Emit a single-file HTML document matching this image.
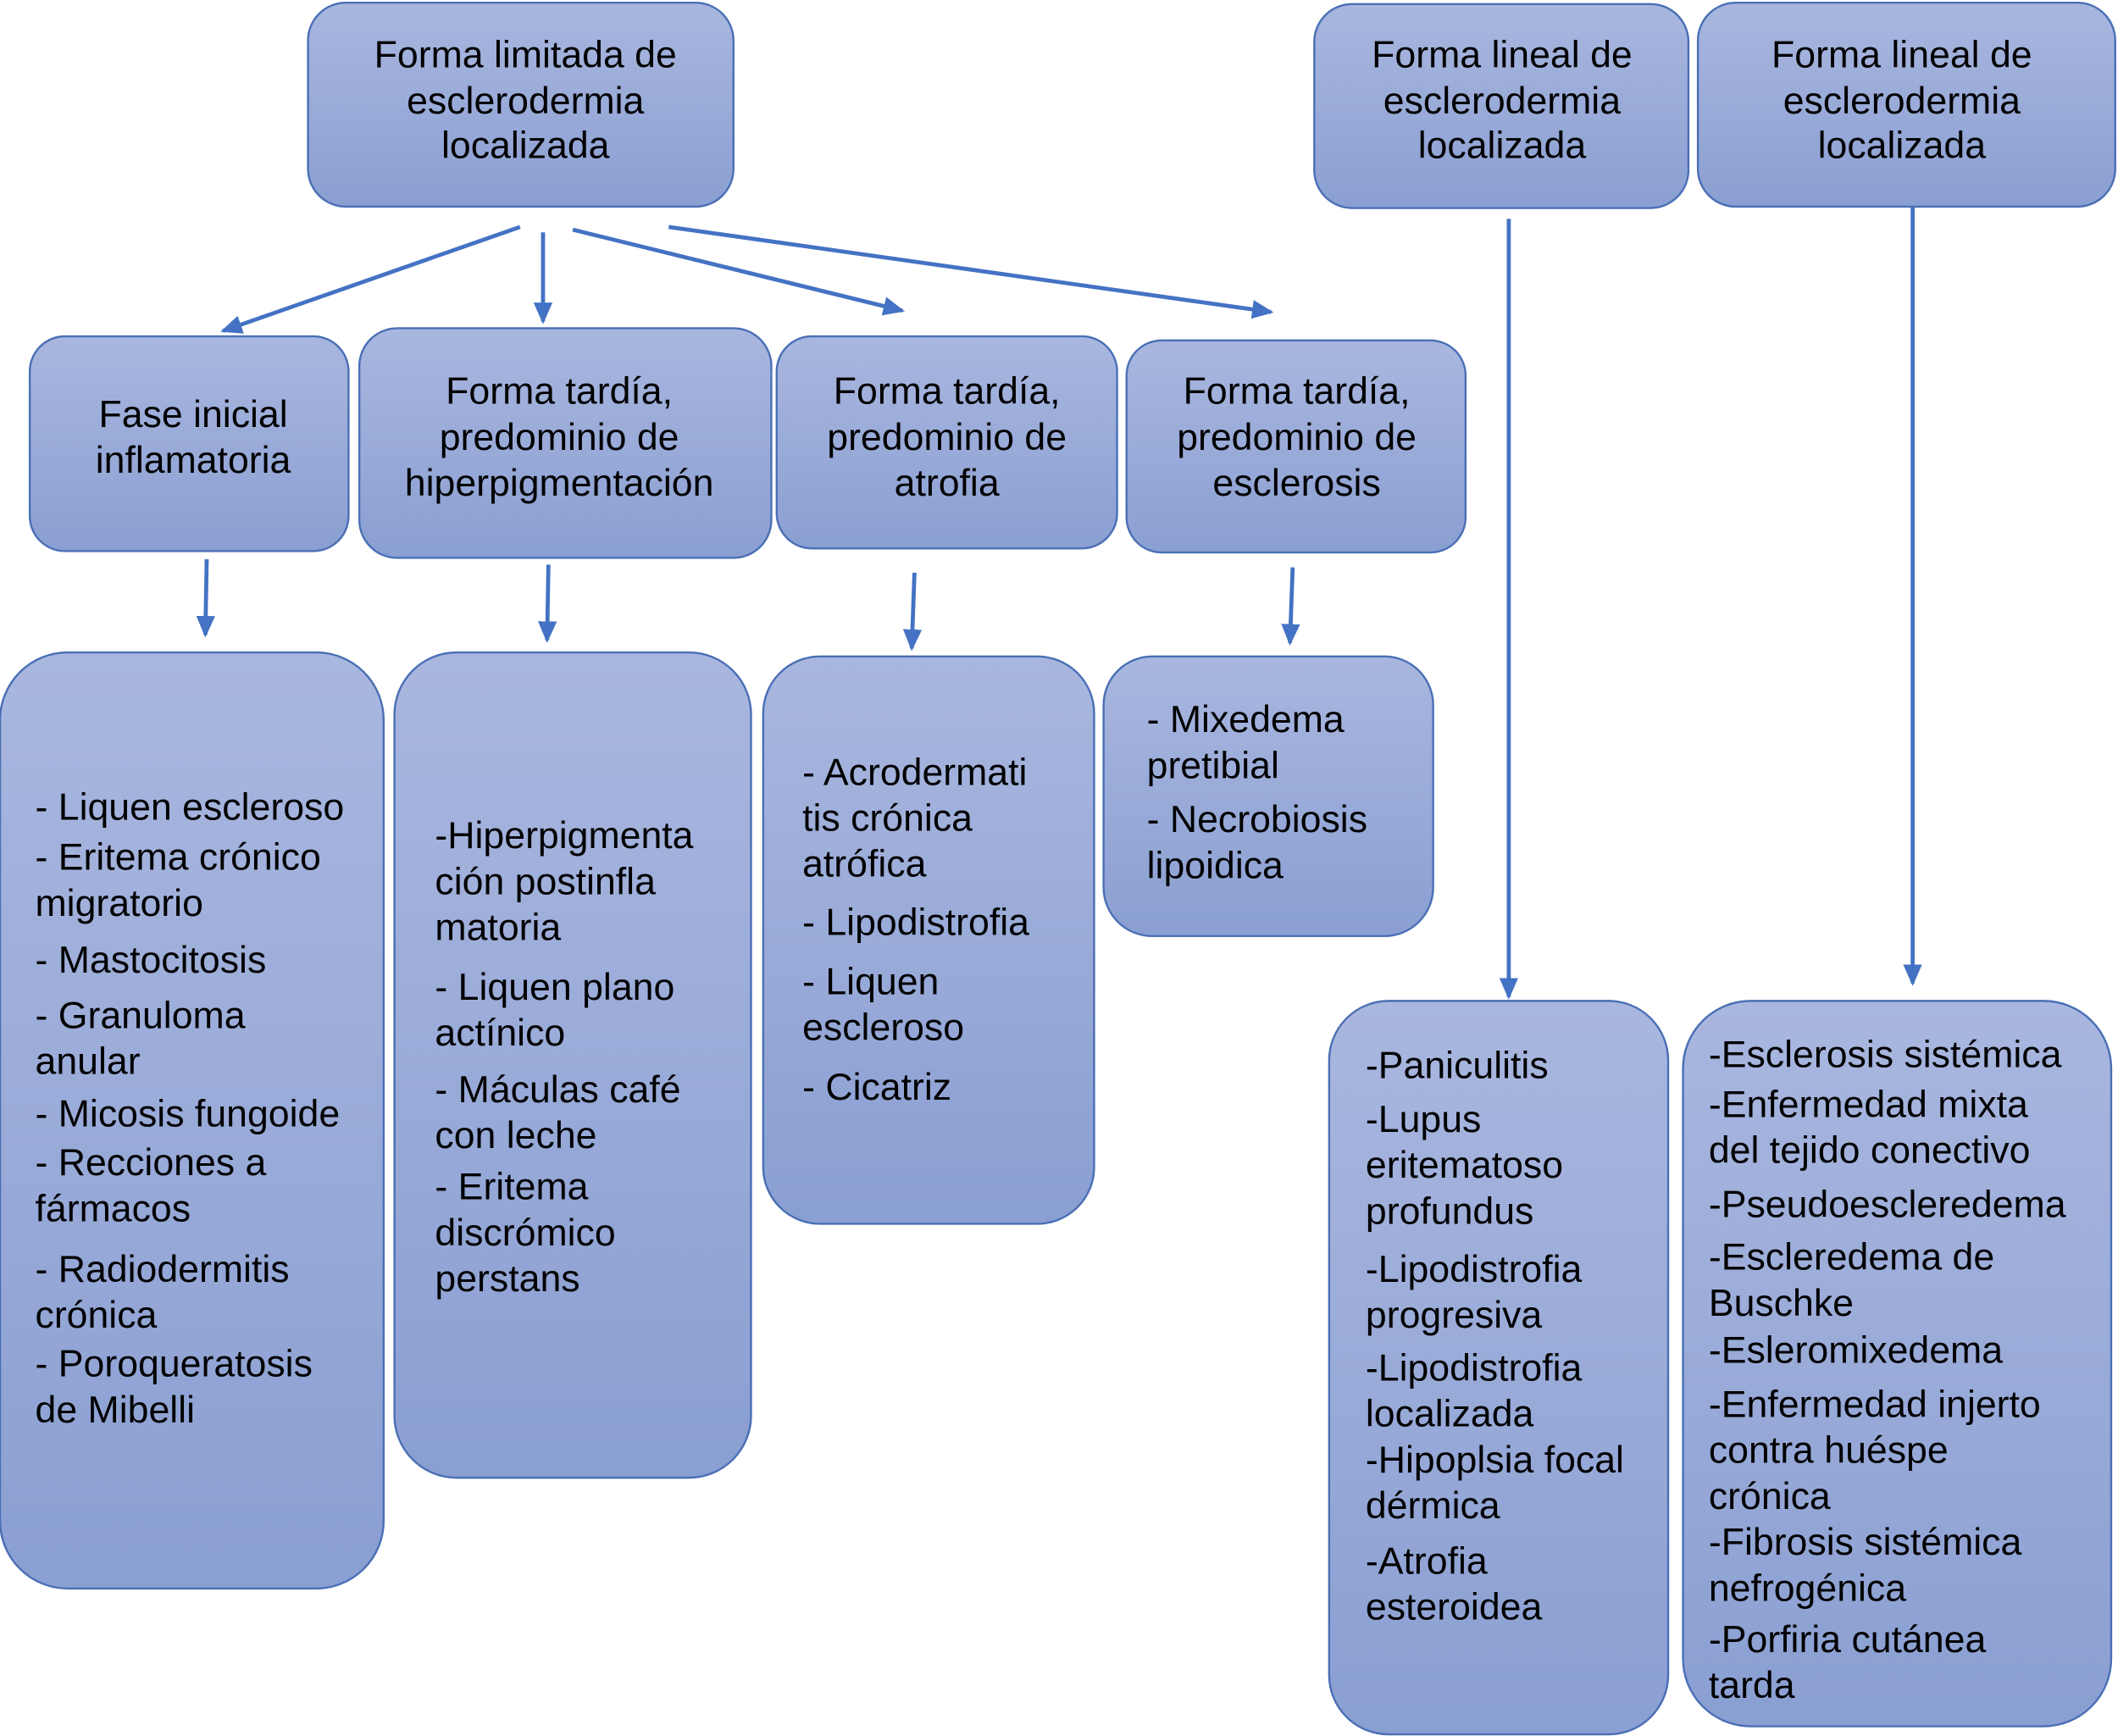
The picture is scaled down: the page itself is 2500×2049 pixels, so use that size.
<!DOCTYPE html>
<html><head><meta charset="utf-8"><style>html,body{margin:0;padding:0;background:#fff}svg{display:block}</style></head><body>
<svg width="2500" height="2049" viewBox="0 0 1568 1285.2" xmlns="http://www.w3.org/2000/svg">
<defs>
<linearGradient id="g" x1="0" y1="0" x2="0" y2="1"><stop offset="0" stop-color="#a9b7df"/><stop offset="1" stop-color="#8a9fd2"/></linearGradient>
<marker id="a" markerWidth="16" markerHeight="16" refX="14" refY="8" orient="auto" markerUnits="userSpaceOnUse" viewBox="0 0 16 16"><path d="M0,1 L16,8 L0,15 z" fill="#4472c4"/></marker>
</defs>
<g fill="url(#g)" stroke="#4a6fb5" stroke-width="1.5">
<rect x="228" y="2" width="315" height="151" rx="28"/>
<rect x="973" y="3" width="277" height="151" rx="28"/>
<rect x="1257" y="2" width="309" height="151" rx="28"/>
<rect x="22" y="249" width="236" height="159" rx="26"/>
<rect x="266" y="243" width="305" height="170" rx="28"/>
<rect x="575" y="249" width="252" height="157" rx="26"/>
<rect x="834" y="252" width="251" height="157" rx="26"/>
<rect x="0" y="483" width="284" height="693" rx="50"/>
<rect x="292" y="483" width="264" height="611" rx="46"/>
<rect x="565" y="486" width="245" height="420" rx="42"/>
<rect x="817" y="486" width="244" height="207" rx="36"/>
<rect x="984" y="741" width="251" height="543" rx="44"/>
<rect x="1246" y="741" width="317" height="537" rx="50"/>
</g>
<g stroke="#4472c4" stroke-width="3" marker-end="url(#a)">
<line x1="385" y1="168" x2="165" y2="245"/>
<line x1="402" y1="172" x2="402" y2="238"/>
<line x1="424" y1="170" x2="668" y2="230"/>
<line x1="495" y1="168" x2="941" y2="231"/>
<line x1="153" y1="414" x2="152" y2="470"/>
<line x1="406" y1="418" x2="405" y2="474"/>
<line x1="677" y1="424" x2="675" y2="480"/>
<line x1="957" y1="420" x2="955" y2="476"/>
<line x1="1117" y1="162" x2="1117" y2="738"/>
<line x1="1416" y1="153" x2="1416" y2="728"/>
</g>
<g font-family="Liberation Sans, Arial, sans-serif" font-size="28" fill="#000">
<g text-anchor="middle">
<text x="389" y="50">Forma limitada de</text><text x="389" y="84">esclerodermia</text><text x="389" y="117">localizada</text>
<text x="1112" y="50">Forma lineal de</text><text x="1112" y="84">esclerodermia</text><text x="1112" y="117">localizada</text>
<text x="1408" y="50">Forma lineal de</text><text x="1408" y="84">esclerodermia</text><text x="1408" y="117">localizada</text>
<text x="143" y="316">Fase inicial</text><text x="143" y="350">inflamatoria</text>
<text x="414" y="299">Forma tardía,</text><text x="414" y="333">predominio de</text><text x="414" y="367">hiperpigmentación</text>
<text x="701" y="299">Forma tardía,</text><text x="701" y="333">predominio de</text><text x="701" y="367">atrofia</text>
<text x="960" y="299">Forma tardía,</text><text x="960" y="333">predominio de</text><text x="960" y="367">esclerosis</text>
</g>
<g>
<text x="26" y="607">- Liquen escleroso</text><text x="26" y="644">- Eritema crónico</text><text x="26" y="678">migratorio</text><text x="26" y="720">- Mastocitosis</text><text x="26" y="761">- Granuloma</text><text x="26" y="795">anular</text><text x="26" y="834">- Micosis fungoide</text><text x="26" y="870">- Recciones a</text><text x="26" y="904">fármacos</text><text x="26" y="949">- Radiodermitis</text><text x="26" y="983">crónica</text><text x="26" y="1019">- Poroqueratosis</text><text x="26" y="1053">de Mibelli</text>
<text x="322" y="628">-Hiperpigmenta</text><text x="322" y="662">ción postinfla</text><text x="322" y="696">matoria</text><text x="322" y="740">- Liquen plano</text><text x="322" y="774">actínico</text><text x="322" y="816">- Máculas café</text><text x="322" y="850">con leche</text><text x="322" y="888">- Eritema</text><text x="322" y="922">discrómico</text><text x="322" y="956">perstans</text>
<text x="594" y="581">- Acrodermati</text><text x="594" y="615">tis crónica</text><text x="594" y="649">atrófica</text><text x="594" y="692">- Lipodistrofia</text><text x="594" y="736">- Liquen</text><text x="594" y="770">escleroso</text><text x="594" y="814">- Cicatriz</text>
<text x="849" y="542">- Mixedema</text><text x="849" y="576">pretibial</text><text x="849" y="616">- Necrobiosis</text><text x="849" y="650">lipoidica</text>
<text x="1011" y="798">-Paniculitis</text><text x="1011" y="838">-Lupus</text><text x="1011" y="872">eritematoso</text><text x="1011" y="906">profundus</text><text x="1011" y="949">-Lipodistrofia</text><text x="1011" y="983">progresiva</text><text x="1011" y="1022">-Lipodistrofia</text><text x="1011" y="1056">localizada</text><text x="1011" y="1090">-Hipoplsia focal</text><text x="1011" y="1124">dérmica</text><text x="1011" y="1165">-Atrofia</text><text x="1011" y="1199">esteroidea</text>
<text x="1265" y="790">-Esclerosis sistémica</text><text x="1265" y="827">-Enfermedad mixta</text><text x="1265" y="861">del tejido conectivo</text><text x="1265" y="901">-Pseudoescleredema</text><text x="1265" y="940">-Escleredema de</text><text x="1265" y="974">Buschke</text><text x="1265" y="1009">-Esleromixedema</text><text x="1265" y="1049">-Enfermedad injerto</text><text x="1265" y="1083">contra huéspe</text><text x="1265" y="1117">crónica</text><text x="1265" y="1151">-Fibrosis sistémica</text><text x="1265" y="1185">nefrogénica</text><text x="1265" y="1223">-Porfiria cutánea</text><text x="1265" y="1257">tarda</text>
</g>
</g>
</svg>
</body></html>
